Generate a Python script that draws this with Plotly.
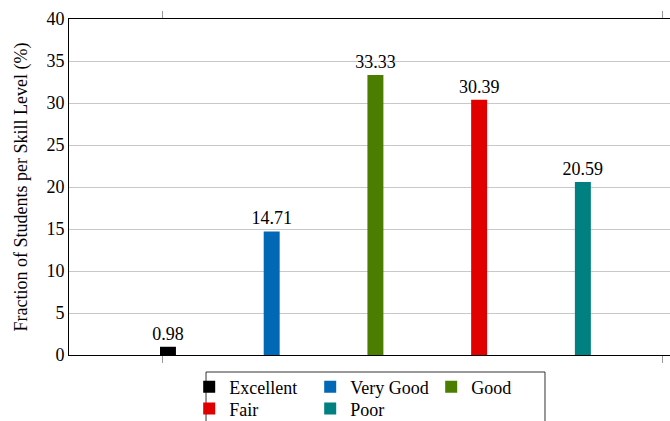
import plotly.graph_objects as go

categories = ["Excellent", "Very Good", "Good", "Fair", "Poor"]
values = [0.98, 14.71, 33.33, 30.39, 20.59]
colors = ["#000000", "#0068b4", "#4a7d00", "#e00000", "#008080"]
y_ticks = [0, 5, 10, 15, 20, 25, 30, 35, 40]

FONT = "Liberation Serif"

fig = go.Figure()
for i, (name, v, c) in enumerate(zip(categories, values, colors)):
    fig.add_trace(go.Bar(
        x=[i], y=[v], name=name,
        marker=dict(color=c, line=dict(width=0)),
        width=0.154,
        text=[f"{v:.2f}"], textposition="outside",
        constraintext="none",
        textfont=dict(family=FONT, size=18, color="#000"),
        cliponaxis=False,
        legend="legend" if i < 3 else "legend2",
    ))

leg_common = dict(
    orientation="h", xanchor="left", yanchor="top",
    borderwidth=0, bgcolor="rgba(0,0,0,0)",
    entrywidth=76, entrywidthmode="pixels",
    font=dict(family=FONT, size=18),
    tracegroupgap=0,
)

fig.update_layout(
    width=670, height=421,
    margin=dict(l=69, r=0, t=19, b=66, autoexpand=False),
    plot_bgcolor="white", paper_bgcolor="white",
    barmode="overlay",
    showlegend=True,
    font=dict(family=FONT, size=18, color="#000"),
    legend=dict(x=0.20, y=-0.040, **leg_common),
    legend2=dict(x=0.20, y=-0.105, **leg_common),
    shapes=[dict(type="rect", xref="paper", yref="paper",
                 x0=0.228, x1=0.792, y0=-0.0506, y1=-0.3,
                 line=dict(color="#333", width=1), fillcolor="rgba(0,0,0,0)")],
    xaxis=dict(
        range=[-0.954, 4.84],
        tickvals=[-0.048, 4.77], ticktext=["", ""],
        ticks="outside", ticklen=7, tickcolor="#999",
        showline=True, linecolor="#000", linewidth=1, mirror="ticks",
        showgrid=False, zeroline=False,
    ),
    yaxis=dict(
        range=[0, 40], tickvals=y_ticks,
        ticks="", showline=True, linecolor="#000", linewidth=1,
        showgrid=True, gridcolor="#c8c8c8", gridwidth=1,
        zeroline=False,
        tickfont=dict(family=FONT, size=18),
        title=dict(text="Fraction of Students per Skill Level (%)",
                   font=dict(family=FONT, size=18), standoff=14),
    ),
)

fig.write_html("out.html")
